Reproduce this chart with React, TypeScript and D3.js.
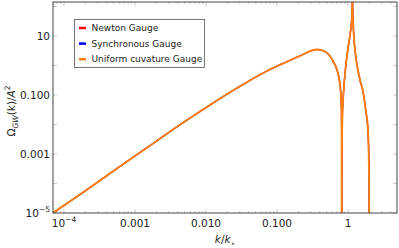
import React from 'react';
import * as d3 from 'd3';

// k/k* sample points
const waveNumbers = [
  7.0e-5, 1.98e-4, 5.57e-4, 1.63e-3, 4.3e-3, 0.01138, 0.024, 0.0723, 0.13, 0.211, 0.366, 0.474,
  0.615, 0.7, 0.747, 0.789, 0.81, 0.814, 0.8165, 0.82, 0.838, 0.87, 0.928, 1.01, 1.077,
  1.127, 1.15, 1.1547, 1.16, 1.188, 1.227, 1.326, 1.476, 1.642, 1.775, 1.913, 1.985, 2.0,
];

// Omega_GW / A^2 (all three gauges lie on top of each other)
const omegaGW = [
  1.0e-5, 5.57e-5, 3.2e-4, 1.94e-3, 9.77e-3, 0.0458, 0.142, 0.652, 1.26, 2.13, 3.48, 2.98,
  1.42, 0.704, 0.377, 0.126, 0.031, 2e-3, 1e-8, 1e-3, 0.031, 0.148, 0.91, 4.33, 12.6,
  34.8, 112, 400, 110, 20.7, 5.8, 1.215, 0.322, 0.117, 0.031, 6.5e-3, 1e-4, 1e-8,
];

const gaugeNames = ['Newton Gauge', 'Synchronous Gauge', 'Uniform cuvature Gauge'];
const gaugeColors = ['#ff0000', '#0000ff', '#ff7f0e'];

const xTickValues = [1e-4, 1e-3, 1e-2, 1e-1, 1];
const xTickLabels = ['10^-4', '0.001', '0.010', '0.100', '1'];
const yTickValues = [10, 0.1, 0.001, 1e-5];
const yTickLabels = ['10', '0.100', '0.001', '10^-5'];

const width = 399, height = 248;
const margin = { left: 53, right: 2, top: 2, bottom: 35 };
const font = '"DejaVu Sans", sans-serif';

function TickLabel({ label, x, y, anchor }: { label: string; x: number; y: number; anchor: string }) {
  if (label.includes('^')) {
    const [base, exp] = label.split('^');
    return (
      <text x={x} y={y} textAnchor={anchor} fontSize={10.5} fontFamily={font} fill="#222">
        {base}
        <tspan dy={-5} fontSize={7.5}>{exp.replace('-', '\u2212')}</tspan>
      </text>
    );
  }
  return (
    <text x={x} y={y} textAnchor={anchor} fontSize={10.5} fontFamily={font} fill="#222">
      {label}
    </text>
  );
}

export default function App() {
  const x = d3.scaleLog().domain([7.0e-5, 4.9]).range([margin.left, width - margin.right]);
  const y = d3.scaleLog().domain([1e-5, 142]).range([height - margin.bottom, margin.top]);

  const points = waveNumbers.map((k, i) => [k, omegaGW[i]] as [number, number]);
  const line = d3.line<[number, number]>()
    .x(d => x(d[0]))
    .y(d => y(d[1]))
    .curve(d3.curveMonotoneX);
  const path = line(points) || '';

  const [x0, x1] = x.range();
  const [y0, y1] = y.range();

  // minor ticks 2..9 in each decade for x
  const xMinor: number[] = [];
  for (let e = -5; e <= 0; e++) {
    for (let m = 2; m <= 9; m++) {
      const v = m * Math.pow(10, e);
      if (v > x.domain()[0] && v < x.domain()[1]) xMinor.push(v);
    }
  }
  const yMajor = d3.range(-5, 3).map(e => Math.pow(10, e)).filter(v => v <= y.domain()[1]);

  return (
    <svg width={width} height={height} style={{ position: 'absolute', left: 0, top: 0, background: '#fff' }}>
      <defs>
        <clipPath id="plot-clip">
          <rect x={x0} y={y1} width={x1 - x0} height={y0 - y1} />
        </clipPath>
      </defs>

      {/* ticks, pointing inward on all four sides */}
      <g stroke="#bbb" strokeWidth={0.8}>
        {xTickValues.map(v => (
          <g key={'xt' + v}>
            <line x1={x(v)} x2={x(v)} y1={y0} y2={y0 - 4} />
            <line x1={x(v)} x2={x(v)} y1={y1} y2={y1 + 4} />
          </g>
        ))}
        {xMinor.map(v => (
          <g key={'xm' + v}>
            <line x1={x(v)} x2={x(v)} y1={y0} y2={y0 - 2} />
            <line x1={x(v)} x2={x(v)} y1={y1} y2={y1 + 2} />
          </g>
        ))}
        {yMajor.map(v => (
          <g key={'yt' + v}>
            <line x1={x0} x2={x0 + 4} y1={y(v)} y2={y(v)} />
            <line x1={x1} x2={x1 - 4} y1={y(v)} y2={y(v)} />
          </g>
        ))}
      </g>

      <g clipPath="url(#plot-clip)" fill="none">
        {gaugeNames.map((name, i) => (
          <path key={name} d={path} stroke={gaugeColors[i]}
            strokeWidth={i === gaugeNames.length - 1 ? 1.9 : 1.2} strokeLinejoin="round" />
        ))}
      </g>

      <rect x={x0} y={y1} width={x1 - x0} height={y0 - y1} fill="none" stroke="#444" strokeWidth={1} />

      {xTickValues.map((v, i) => (
        <TickLabel key={'xl' + v} label={xTickLabels[i]} x={x(v)} y={y0 + 14} anchor="middle" />
      ))}
      {yTickValues.map((v, i) => (
        <TickLabel key={'yl' + v} label={yTickLabels[i]} x={x0 - 3} y={y(v) + 4} anchor="end" />
      ))}

      {/* axis titles */}
      <text x={(x0 + x1) / 2} y={243} textAnchor="middle" fontSize={10.5} fontFamily={font} fill="#222">
        <tspan fontStyle="italic">k</tspan>/<tspan fontStyle="italic">k</tspan>
        <tspan dy={3} fontSize={7.5}>⋆</tspan>
      </text>
      <text transform={`translate(15,111) rotate(-90)`} textAnchor="middle" fontSize={10.5} fontFamily={font} fill="#222">
        Ω<tspan dy={3} fontSize={7.5} fontStyle="italic">GW</tspan>
        <tspan dy={-3}>(k)/</tspan><tspan fontStyle="italic">A</tspan>
        <tspan dy={-5} fontSize={7.5}>2</tspan>
      </text>

      {/* legend */}
      <g>
        <rect x={74.5} y={19.5} width={130} height={48} fill="#fff" stroke="#555" strokeWidth={0.8} />
        {gaugeNames.map((name, i) => (
          <g key={'lg' + name} transform={`translate(79,${28 + i * 15.6})`}>
            <line x1={0} x2={7} y1={0} y2={0} stroke={gaugeColors[i]} strokeWidth={2.5} />
            <text x={12.5} y={3.2} fontSize={9} fontFamily={font} fill="#222">{name}</text>
          </g>
        ))}
      </g>
    </svg>
  );
}
